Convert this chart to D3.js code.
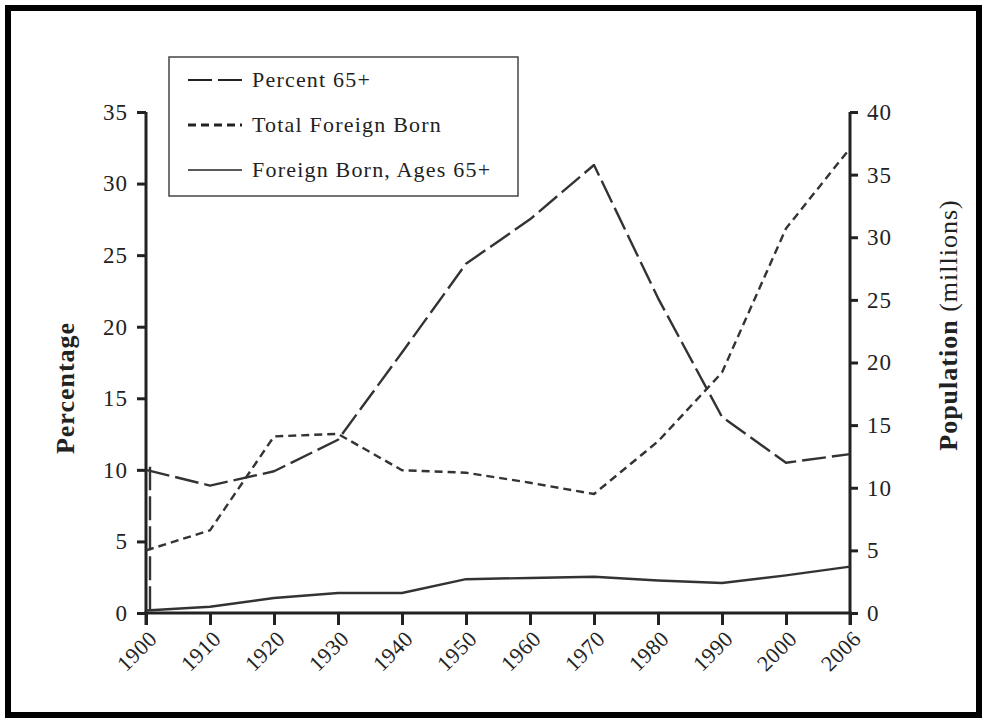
<!DOCTYPE html>
<html>
<head>
<meta charset="utf-8">
<script src="https://cdn.jsdelivr.net/npm/d3@7"></script>
<style>
  html, body { margin: 0; padding: 0; background: #fff; }
  svg { display: block; }
  text { font-family: "Liberation Serif", "DejaVu Serif", serif; fill: #222; }
</style>
</head>
<body>
<svg id="chart" width="987" height="723"></svg>
<script>
// ---- data ----
const years = ["1900","1910","1920","1930","1940","1950","1960","1970","1980","1990","2000","2006"];
const percent65 = [10.0, 8.9, 9.9, 12.1, 18.2, 24.4, 27.5, 31.3, 22.0, 13.7, 10.5, 11.1];       // left axis (%)
const totalForeignBorn = [5.0, 6.6, 14.1, 14.3, 11.4, 11.2, 10.4, 9.5, 13.7, 19.2, 30.7, 37.1]; // right axis (millions)
const foreignBorn65 = [0.2, 0.5, 1.2, 1.6, 1.6, 2.7, 2.8, 2.9, 2.6, 2.4, 3.0, 3.7];              // right axis (millions)
const leftTicks = [0, 5, 10, 15, 20, 25, 30, 35];
const rightTicks = [0, 5, 10, 15, 20, 25, 30, 35, 40];
const legendLabels = ["Percent 65+", "Total Foreign Born", "Foreign Born, Ages 65+"];

// ---- layout ----
const svg = d3.select("#chart");
const W = 987, H = 723;
const x0 = 146, x1 = 850, yTop = 112, yBot = 613;
const ink = "#222";
const lineInk = "#333";
const longDash = "24,6";
const shortDash = "8,5";

// frame
svg.append("rect").attr("x", 8).attr("y", 8).attr("width", W - 16).attr("height", H - 16)
  .attr("fill", "none").attr("stroke", "#000").attr("stroke-width", 6);

const x = d3.scalePoint().domain(years).range([x0, x1]);
const yL = d3.scaleLinear().domain([0, 35]).range([yBot, yTop]);
const yR = d3.scaleLinear().domain([0, 40]).range([yBot, yTop]);

// axes
const axL = svg.append("g").attr("transform", `translate(${x0},0)`)
  .call(d3.axisLeft(yL).tickValues(leftTicks).tickSize(9).tickPadding(9).tickSizeOuter(0));
const axR = svg.append("g").attr("transform", `translate(${x1},0)`)
  .call(d3.axisRight(yR).tickValues(rightTicks).tickSize(8).tickPadding(9).tickSizeOuter(0));
const axB = svg.append("g").attr("transform", `translate(0,${yBot})`)
  .call(d3.axisBottom(x).tickSize(12).tickSizeOuter(0));

[axL, axR, axB].forEach(g => {
  g.select(".domain").attr("stroke", ink).attr("stroke-width", 3);
  g.selectAll(".tick line").attr("stroke", ink).attr("stroke-width", 3);
  g.selectAll("text").attr("fill", ink).style("font-family", "Liberation Serif, serif");
});
axL.selectAll("text").style("font-size", "23px").style("letter-spacing", "1px");
axR.selectAll("text").style("font-size", "23px").style("letter-spacing", "1px");
// extend the vertical axes a bit below the baseline
axL.select(".domain").attr("d", `M0,${yTop}V${yBot + 12}`);
axR.select(".domain").attr("d", `M0,${yTop}V${yBot + 12}`);
axB.select(".domain").attr("d", `M${x0 - 2},0H${x1 + 2}`);

axB.selectAll("text")
  .style("font-size", "22px")
  .style("letter-spacing", "0.5px")
  .attr("text-anchor", "end")
  .attr("dy", null)
  .attr("y", 0)
  .attr("transform", "translate(12,27) rotate(-45)");

// axis titles
svg.append("text")
  .attr("transform", `translate(74,388) rotate(-90)`)
  .attr("text-anchor", "middle")
  .style("font-size", "26px").style("font-weight", "bold").style("letter-spacing", "1px")
  .text("Percentage");
const rt = svg.append("text")
  .attr("transform", `translate(957,325) rotate(-90)`)
  .attr("text-anchor", "middle")
  .style("font-size", "26px").style("letter-spacing", "1px");
rt.append("tspan").style("font-weight", "bold").text("Population ");
rt.append("tspan").text("(millions)");

// lines
const g = svg.append("g").attr("fill", "none").attr("stroke", lineInk).attr("stroke-width", 2.4)
  .attr("stroke-linejoin", "round");
const lineL = d3.line().x((d, i) => x(years[i])).y(d => yL(d));
const lineR = d3.line().x((d, i) => x(years[i])).y(d => yR(d));

g.append("path").attr("d", lineR(foreignBorn65));
g.append("path").attr("d", lineR(totalForeignBorn)).attr("stroke-dasharray", shortDash);
g.append("path").attr("d", lineL(percent65)).attr("stroke-dasharray", longDash);
// vertical rise of the percent series at the first year
g.append("path")
  .attr("d", d3.line()([[x(years[0]) + 4, yL(0.2)], [x(years[0]) + 4, yL(percent65[0]) - 3]]))
  .attr("stroke-dasharray", longDash);

// legend
const lg = svg.append("g");
lg.append("rect").attr("x", 169).attr("y", 57).attr("width", 349).attr("height", 139)
  .attr("fill", "#fff").attr("stroke", "#444").attr("stroke-width", 1.5);
const dashes = [longDash, shortDash, null];
const widths = [2, 3, 1.6];
legendLabels.forEach((lab, i) => {
  const cy = 80 + i * 45;
  lg.append("line").attr("x1", 188).attr("x2", 242).attr("y1", cy).attr("y2", cy)
    .attr("stroke", "#222").attr("stroke-width", widths[i])
    .attr("stroke-dasharray", dashes[i]);
  lg.append("text").attr("x", 252).attr("y", cy + 7)
    .style("font-size", "22px").style("letter-spacing", "1.2px").text(lab);
});
</script>
</body>
</html>
